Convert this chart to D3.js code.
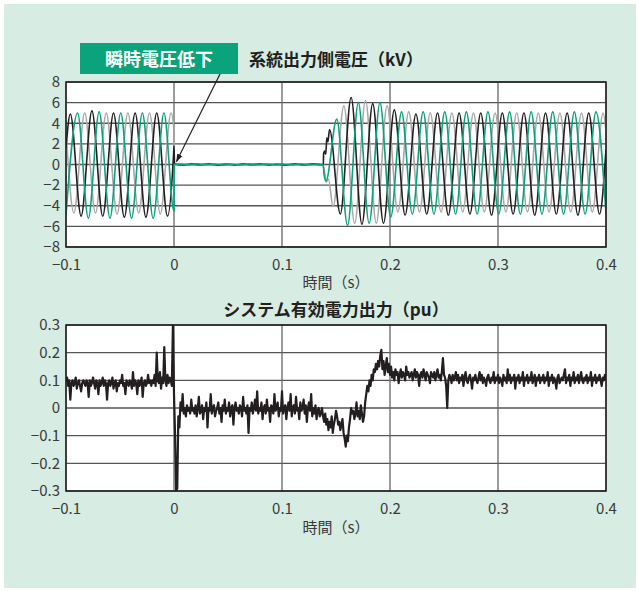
<!DOCTYPE html>
<html>
<head>
<meta charset="utf-8">
<script src="https://cdn.jsdelivr.net/npm/d3@7"></script>
<style>
  body { margin: 0; background: #fff; }
  text { font-family: "Noto Sans CJK JP", "Noto Sans", sans-serif; }
</style>
</head>
<body>
<script>
w = 638;
h = 591;

// time ticks (s), shared by both plots
timeTicks = [-0.1, 0, 0.1, 0.2, 0.3, 0.4];
voltTicks = [-8, -6, -4, -2, 0, 2, 4, 6, 8];
powerTicks = [-0.3, -0.2, -0.1, 0, 0.1, 0.2, 0.3];

topTitle = '系統出力側電圧（kV）';
bottomTitle = 'システム有効電力出力（pu）';
xLabel = '時間（s）';
calloutText = '瞬時電圧低下';

// three phase voltages, [time ms, kV] at peaks / notable points
phaseGray = [
  [-100, 3.3], [-92.7, -4.7], [-82.7, 5.0], [-72.7, -4.7], [-62.7, 5.0], [-52.7, -4.8], [-42.7, 5.0],
  [-32.7, -4.7], [-22.7, 5.0], [-12.7, -4.8], [-2.7, 5.0], [0, 3.3], [0.3, 0],
  [10, 0.05], [20, -0.04], [30, 0.04], [40, -0.05], [50, 0.05], [60, -0.04], [70, 0.04], [80, -0.05],
  [90, 0.04], [100, -0.04], [110, 0.05], [120, -0.04], [130, 0.04], [138, 0],
  [139.5, -0.8], [141, -1.7], [143, -1.4], [147.3, -4.1], [157.3, 5.7], [167.3, -5.7], [177.3, 6.2],
  [187.3, -5.7], [197.3, 5.7], [207.3, -4.6], [217.3, 5.1], [227.3, -4.6], [237.3, 5.0], [247.3, -4.6],
  [257.3, 5.0], [267.3, -4.6], [277.3, 5.0], [287.3, -4.6], [297.3, 5.0], [307.3, -4.6], [317.3, 5.0],
  [327.3, -4.6], [337.3, 5.0], [347.3, -4.6], [357.3, 5.0], [367.3, -4.6], [377.3, 5.0], [387.3, -4.6],
  [397.3, 5.0], [400, 3.3]
];
phaseGreen = [
  [-100, -4.9], [-89.3, 5.0], [-79.3, -5.2], [-69.3, 5.1], [-59.3, -5.2], [-49.3, 5.0], [-39.3, -5.2],
  [-29.3, 5.0], [-19.3, -5.2], [-9.3, 5.0], [0, -4.5], [0.3, 0],
  [6, 0.04], [14, -0.04], [22, 0.05], [30, -0.03], [38, 0.04], [46, -0.05], [54, 0.03], [62, -0.04],
  [70, 0.05], [78, -0.03], [86, 0.04], [94, -0.05], [102, 0.03], [110, -0.04], [118, 0.05], [126, -0.03],
  [134, 0.03], [138, 0],
  [139, -1.0], [140.7, -1.6], [150.7, 4.4], [160.7, -5.9], [170.7, 6.0], [180.7, -5.7], [190.7, 6.0],
  [200.7, -5.1], [210.7, 5.1], [220.7, -4.8], [230.7, 5.1], [240.7, -4.8], [250.7, 5.1], [260.7, -4.8],
  [270.7, 5.1], [280.7, -4.8], [290.7, 5.1], [300.7, -4.8], [310.7, 5.1], [320.7, -4.8], [330.7, 5.1],
  [340.7, -4.8], [350.7, 5.1], [360.7, -4.8], [370.7, 5.1], [380.7, -4.8], [390.7, 5.1], [400, -4.8]
];
phaseBlack = [
  [-100, 1.6], [-96, 4.9], [-86, -5.0], [-76, 5.2], [-66, -5.0], [-56, 5.0], [-46, -5.1], [-36, 5.0],
  [-26, -5.1], [-16, 5.0], [-6, -5.0], [-0.3, 1.2], [0, 1.8], [0.5, 0.05],
  [8, -0.05], [16, 0.05], [24, -0.03], [32, 0.04], [40, -0.05], [48, 0.03], [56, -0.04], [64, 0.04],
  [72, -0.03], [80, 0.05], [88, -0.04], [96, 0.03], [104, -0.05], [112, 0.04], [120, -0.03], [128, 0.04],
  [136, -0.02], [138.3, 0],
  [138.5, 1.0], [139.5, 1.3], [140.5, 1.0], [141.5, 2.6], [142.5, 2.2], [144, 3.4], [154, -4.8],
  [164, 6.5], [174, -5.8], [184, 5.9], [194, -5.7], [204, 5.3], [214, -4.9], [224, 4.9], [234, -4.8],
  [244, 5.0], [254, -4.9], [264, 5.0], [274, -4.8], [284, 5.0], [294, -4.9], [304, 5.0], [314, -4.8],
  [324, 5.0], [334, -4.9], [344, 5.0], [354, -4.8], [364, 5.0], [374, -4.9], [384, 5.0], [394, -4.8],
  [400, 1.5]
];

// active power (pu), one sample per ms from -100 ms to 400 ms
powerStart = -0.1;
powerStep = 0.001;
power = [
  0.09,0.11,0.08,0.10,0.03,0.09,0.10,0.08,0.09,0.11,0.07,0.09,0.10,0.08,0.06,0.09,0.10,0.09,0.08,0.10,
  0.09,0.04,0.10,0.08,0.09,0.11,0.09,0.07,0.10,0.09,0.05,0.10,0.08,0.09,0.11,0.08,0.10,0.09,0.03,0.09,
  0.10,0.08,0.09,0.11,0.07,0.09,0.10,0.06,0.09,0.08,0.10,0.09,0.12,0.08,0.09,0.05,0.10,0.09,0.08,0.10,
  0.09,0.07,0.13,0.08,0.10,0.09,0.05,0.10,0.08,0.09,0.11,0.04,0.09,0.10,0.08,0.09,0.12,0.09,0.10,0.08,
  0.10,0.09,0.12,0.08,0.20,0.10,0.09,0.13,0.07,0.11,0.09,0.22,0.10,0.08,0.12,0.09,0.11,0.10,0.08,0.30,
  0.05,-0.10,-0.30,-0.29,-0.03,-0.07,0.02,-0.01,0.05,-0.02,0.00,-0.03,0.01,-0.01,0.00,-0.02,0.03,-0.01,0.00,-0.02,
  0.01,-0.03,0.00,0.04,-0.02,-0.01,0.01,-0.04,0.00,-0.01,0.02,-0.07,0.00,-0.01,0.05,-0.02,0.00,0.01,-0.03,-0.01,
  0.00,0.02,-0.02,0.00,-0.05,0.01,-0.01,0.03,-0.02,0.00,-0.01,0.02,-0.03,0.00,0.01,-0.06,0.00,0.02,-0.01,0.00,
  -0.02,0.01,0.00,-0.03,0.04,-0.01,0.00,-0.02,0.01,-0.09,0.00,-0.01,0.02,-0.02,0.00,0.03,-0.01,0.06,-0.02,0.00,
  -0.01,0.02,-0.04,0.00,0.01,-0.02,0.03,-0.01,0.00,-0.05,0.01,0.00,-0.02,0.05,-0.01,0.00,0.02,-0.03,0.00,-0.01,
  0.06,-0.02,0.00,0.01,-0.04,0.00,0.02,-0.01,0.05,-0.03,0.00,0.01,-0.02,0.04,-0.01,0.00,-0.04,0.02,-0.01,0.00,
  0.03,-0.02,0.01,-0.05,0.00,0.02,-0.01,0.05,-0.03,0.00,-0.02,0.01,-0.04,-0.01,0.00,-0.03,-0.02,0.00,-0.03,-0.05,
  -0.02,-0.06,-0.04,-0.08,-0.05,-0.07,-0.03,-0.09,-0.06,-0.04,-0.01,-0.03,-0.06,-0.05,-0.08,-0.06,-0.04,-0.09,-0.11,-0.14,
  -0.10,-0.12,-0.07,-0.04,0.00,-0.02,-0.01,-0.04,-0.02,0.02,-0.03,-0.01,-0.04,0.01,-0.02,-0.05,-0.03,0.02,0.05,0.08,
  0.06,0.10,0.08,0.12,0.10,0.14,0.13,0.16,0.14,0.17,0.15,0.19,0.21,0.14,0.17,0.12,0.15,0.18,0.13,0.16,
  0.12,0.15,0.11,0.13,0.10,0.14,0.12,0.13,0.09,0.12,0.14,0.11,0.13,0.12,0.10,0.15,0.12,0.13,0.11,0.12,
  0.13,0.10,0.12,0.14,0.11,0.13,0.12,0.08,0.12,0.13,0.11,0.14,0.12,0.10,0.13,0.12,0.11,0.09,0.13,0.12,
  0.11,0.13,0.10,0.12,0.14,0.11,0.12,0.10,0.13,0.18,0.12,0.11,0.08,0.00,0.10,0.12,0.11,0.09,0.12,0.10,
  0.11,0.13,0.10,0.12,0.09,0.11,0.10,0.12,0.08,0.11,0.13,0.10,0.09,0.11,0.12,0.10,0.07,0.11,0.10,0.12,
  0.10,0.09,0.11,0.13,0.10,0.12,0.09,0.11,0.10,0.08,0.11,0.12,0.10,0.09,0.11,0.10,0.13,0.09,0.11,0.10,
  0.12,0.09,0.11,0.10,0.08,0.12,0.10,0.11,0.09,0.14,0.10,0.12,0.09,0.11,0.10,0.12,0.07,0.11,0.10,0.12,
  0.09,0.11,0.10,0.13,0.08,0.11,0.10,0.12,0.09,0.11,0.10,0.13,0.09,0.10,0.12,0.08,0.11,0.10,0.12,0.09,
  0.11,0.10,0.12,0.09,0.11,0.10,0.13,0.08,0.11,0.10,0.12,0.09,0.11,0.10,0.07,0.11,0.12,0.09,0.10,0.11,
  0.10,0.12,0.14,0.09,0.11,0.10,0.12,0.08,0.11,0.10,0.13,0.09,0.11,0.10,0.12,0.09,0.11,0.13,0.10,0.09,
  0.11,0.10,0.12,0.09,0.11,0.10,0.13,0.08,0.11,0.10,0.12,0.09,0.11,0.10,0.12,0.10,0.08,0.11,0.10,0.12,
  0.10
];

left = 66;
right = 606;
top1 = 82; bottom1 = 247;
top2 = 325; bottom2 = 491;

svg = d3.select('body')
  .append('svg')
  .attr('width', w)
  .attr('height', h);

svg.append('rect')
  .attr('x', 4).attr('y', 4)
  .attr('width', 632).attr('height', 584)
  .attr('fill', '#d7ece3');

let xScale = d3.scaleLinear().domain([-0.1, 0.4]).range([left, right]);
let yVolt = d3.scaleLinear().domain([-8, 8]).range([bottom1, top1]);
let yPow = d3.scaleLinear().domain([-0.3, 0.3]).range([bottom2, top2]);

let fmtX = d => d === 0 ? '0' : d3.format('.1f')(d);

function panel(yScale, yTicks, fmtY, y0, y1, clipId) {
  let g = svg.append('g');
  g.append('rect')
    .attr('x', left).attr('y', y0)
    .attr('width', right - left).attr('height', y1 - y0)
    .attr('fill', '#fff');
  g.selectAll('.hgrid')
    .data(yTicks)
    .enter()
    .append('line')
    .attr('x1', left).attr('x2', right)
    .attr('y1', d => yScale(d)).attr('y2', d => yScale(d))
    .attr('stroke', '#555')
    .attr('stroke-width', 1.3);
  g.selectAll('.vgrid')
    .data(timeTicks)
    .enter()
    .append('line')
    .attr('x1', d => xScale(d)).attr('x2', d => xScale(d))
    .attr('y1', y0).attr('y2', y1)
    .attr('stroke', '#666')
    .attr('stroke-width', 1.3);

  svg.append('clipPath')
    .attr('id', clipId)
    .append('rect')
    .attr('x', left).attr('y', y0)
    .attr('width', right - left).attr('height', y1 - y0);

  let xAxis = d3.axisBottom(xScale).tickValues(timeTicks).tickSize(0).tickPadding(12).tickFormat(fmtX);
  let yAxis = d3.axisLeft(yScale).tickValues(yTicks).tickSize(0).tickPadding(6).tickFormat(fmtY);
  let ax = svg.append('g').attr('transform', `translate(0, ${y1})`).call(xAxis);
  let ay = svg.append('g').attr('transform', `translate(${left}, 0)`).call(yAxis);
  [ax, ay].forEach(a => {
    a.select('.domain').remove();
    a.selectAll('text')
      .attr('font-size', 15)
      .attr('fill', '#3a3a3a')
      .attr('font-family', '"Noto Sans CJK JP", sans-serif');
  });
  return g;
}

panel(yVolt, voltTicks, d3.format('d'), top1, bottom1, 'clip1');
panel(yPow, powerTicks, fmtX, top2, bottom2, 'clip2');

// voltage waveforms
let vLine = d3.line()
  .x(d => xScale(d[0] / 1000))
  .y(d => yVolt(d[1]))
  .curve(d3.curveMonotoneX);

[[phaseGray, '#a8a8a8'], [phaseBlack, '#231f20'], [phaseGreen, '#0aa37c']].forEach(([data, color]) => {
  svg.append('path')
    .datum(data)
    .attr('d', vLine)
    .attr('fill', 'none')
    .attr('stroke', color)
    .attr('stroke-width', 1.6)
    .attr('clip-path', 'url(#clip1)');
});

// power
let pLine = d3.line()
  .x((d, i) => xScale(powerStart + i * powerStep))
  .y(d => yPow(d));

svg.append('path')
  .datum(power)
  .attr('d', pLine)
  .attr('fill', 'none')
  .attr('stroke', '#231f20')
  .attr('stroke-width', 2.2)
  .attr('stroke-linejoin', 'round')
  .attr('clip-path', 'url(#clip2)');

// frames
[[top1, bottom1], [top2, bottom2]].forEach(([y0, y1]) => {
  svg.append('rect')
    .attr('x', left).attr('y', y0)
    .attr('width', right - left).attr('height', y1 - y0)
    .attr('fill', 'none')
    .attr('stroke', '#231f20')
    .attr('stroke-width', 1.5);
});

// titles
svg.append('text')
  .attr('x', 336).attr('y', 66)
  .attr('text-anchor', 'middle')
  .attr('font-size', 17).attr('font-weight', 'bold')
  .attr('fill', '#231f20')
  .text(topTitle);

svg.append('text')
  .attr('x', 336).attr('y', 316)
  .attr('text-anchor', 'middle')
  .attr('font-size', 17).attr('font-weight', 'bold')
  .attr('fill', '#231f20')
  .text(bottomTitle);

[bottom1 + 41, bottom2 + 42].forEach(y => {
  svg.append('text')
    .attr('x', 336).attr('y', y)
    .attr('text-anchor', 'middle')
    .attr('font-size', 15)
    .attr('fill', '#3a3a3a')
    .text(xLabel);
});

// callout box and arrow
svg.append('rect')
  .attr('x', 80).attr('y', 43)
  .attr('width', 158).attr('height', 31)
  .attr('fill', '#0aa37c');
svg.append('text')
  .attr('x', 159).attr('y', 65.5)
  .attr('text-anchor', 'middle')
  .attr('font-size', 18).attr('font-weight', 'bold')
  .attr('fill', '#fff')
  .text(calloutText);

svg.append('defs').append('marker')
  .attr('id', 'arrow')
  .attr('viewBox', '0 0 10 10')
  .attr('refX', 9).attr('refY', 5)
  .attr('markerWidth', 7).attr('markerHeight', 7)
  .attr('orient', 'auto')
  .append('path')
  .attr('d', 'M0,1.5 L10,5 L0,8.5 Z')
  .attr('fill', '#231f20');

svg.append('line')
  .attr('x1', 220).attr('y1', 74)
  .attr('x2', xScale(0) + 2.5).attr('y2', yVolt(0) - 3)
  .attr('stroke', '#231f20')
  .attr('stroke-width', 1.2)
  .attr('marker-end', 'url(#arrow)');
</script>
</body>
</html>
